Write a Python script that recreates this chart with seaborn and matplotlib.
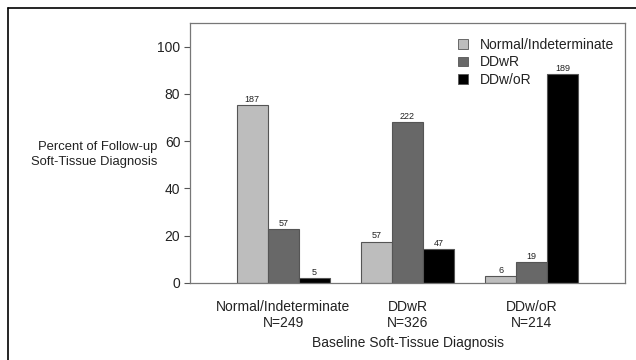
import matplotlib
matplotlib.use("Agg")
import matplotlib.pyplot as plt
import seaborn as sns
import pandas as pd
from matplotlib.lines import Line2D

baseline = ["Normal/Indeterminate", "DDwR", "DDw/oR"]
baseline_n = [249, 326, 214]
followup = ["Normal/Indeterminate", "DDwR", "DDw/oR"]
counts_normal = [187, 57, 6]     # follow-up Normal/Indeterminate per baseline group
counts_ddwr = [57, 222, 19]      # follow-up DDwR per baseline group
counts_ddwor = [5, 47, 189]      # follow-up DDw/oR per baseline group
colors = ["#bdbdbd", "#686868", "#000000"]

rows = []
for fu, cnts in zip(followup, [counts_normal, counts_ddwr, counts_ddwor]):
    for b, n, c in zip(baseline, baseline_n, cnts):
        rows.append({"baseline": b, "followup": fu, "count": c,
                     "percent": 100.0 * c / n})
df = pd.DataFrame(rows)

sns.set_theme(style="white")
plt.rcParams["font.family"] = ["Liberation Sans", "DejaVu Sans"]

fig = plt.figure(figsize=(6.36, 3.6), dpi=100)
ax = fig.add_axes([190 / 636, 1 - 283 / 360, (625 - 190) / 636, (283 - 23) / 360])

sns.barplot(data=df, x="baseline", y="percent", hue="followup",
            order=baseline, hue_order=followup, palette=colors,
            width=0.75, edgecolor="#555555", linewidth=0.8,
            errorbar=None, ax=ax, legend=False)

for cont, fu in zip(ax.containers, followup):
    cnts = df[df.followup == fu].set_index("baseline").loc[baseline, "count"].tolist()
    ax.bar_label(cont, labels=[str(c) for c in cnts], padding=1,
                 fontsize=6.5, color="#222222")

ax.set_xlim(-0.75, 2.75)
ax.set_ylim(0, 110)
ax.set_yticks([0, 20, 40, 60, 80, 100])
ax.set_xticks([0, 1, 2])
ax.set_xticklabels([f"{b}\nN={n}" for b, n in zip(baseline, baseline_n)],
                   fontsize=10, color="#222222", linespacing=1.25)
ax.tick_params(axis="y", labelsize=10, colors="#222222", length=4,
               width=0.8, left=True, color="#555555", pad=3)
ax.tick_params(axis="x", bottom=False, pad=6)
for s in ax.spines.values():
    s.set_color("#777777")
    s.set_linewidth(0.9)

ax.set_xlabel("Baseline Soft-Tissue Diagnosis", fontsize=10, color="#222222",
              labelpad=4)
ax.set_ylabel("")
fig.text(157 / 636, 1 - 154.5 / 360, "Percent of Follow-up\nSoft-Tissue Diagnosis",
         ha="right", va="center", fontsize=9.4, color="#222222", linespacing=1.4)

handles = [plt.Rectangle((0, 0), 1, 1, facecolor=c, edgecolor="#555555",
                         linewidth=0.6) for c in colors]
ax.legend(handles, followup, loc="upper left",
          bbox_to_anchor=(458 / 636, 1 - 38 / 360), bbox_transform=fig.transFigure,
          frameon=False, fontsize=10, handlelength=0.7, handleheight=0.7,
          handletextpad=0.9, labelspacing=0.25, borderaxespad=0.0,
          borderpad=0.0, labelcolor="#222222")

# outer frame lines (left and top)
fig.add_artist(Line2D([8 / 636, 8 / 636], [0, 1 - 8 / 360], color="black",
                      linewidth=1.2, transform=fig.transFigure))
fig.add_artist(Line2D([8 / 636, 1], [1 - 8 / 360, 1 - 8 / 360], color="black",
                      linewidth=1.2, transform=fig.transFigure))

fig.savefig("out.png", dpi=100)
